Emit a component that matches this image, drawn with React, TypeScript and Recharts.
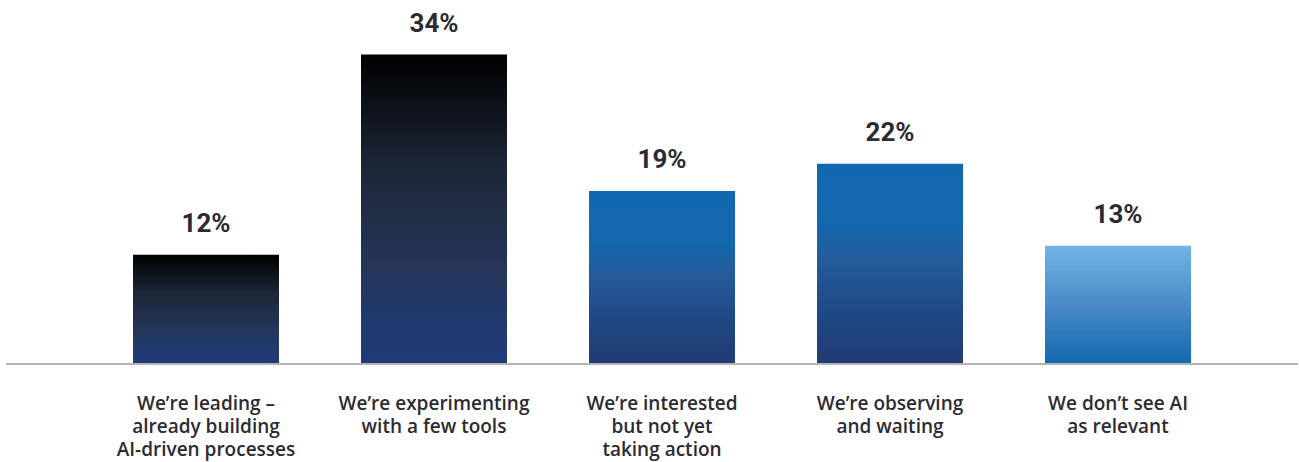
import React from 'react';
import { BarChart, Bar, XAxis, YAxis, Cell, LabelList } from 'recharts';

const categories: string[][] = [
  ['We\u2019re leading \u2013', 'already building', 'AI-driven processes'],
  ['We\u2019re experimenting', 'with a few tools'],
  ['We\u2019re interested', 'but not yet', 'taking action'],
  ['We\u2019re observing', 'and waiting'],
  ['We don\u2019t see AI', 'as relevant'],
];
const values: number[] = [12, 34, 19, 22, 13];
const valueLabels: string[] = ['12%', '34%', '19%', '22%', '13%'];

const gradientFor = ['gDark', 'gDark', 'gBlue', 'gBlue', 'gLight'];

const data = categories.map((c, i) => ({ key: String(i), lines: c, value: values[i], label: valueLabels[i] }));

const TEXT = '#2b2b33';

const Tick = (props: any) => {
  const { x, payload } = props;
  const lines = categories[payload.index] || [];
  return (
    <g>
      {lines.map((l, j) => (
        <text
          key={j}
          x={x}
          y={410 + j * 23}
          textAnchor="middle"
          fontFamily="'Open Sans', sans-serif"
          fontWeight={600}
          fontSize={19}
          fill={TEXT}
        >
          {l}
        </text>
      ))}
    </g>
  );
};

const ValueLabel = (props: any) => {
  const { x, y, width, index } = props;
  return (
    <text
      x={x + width / 2}
      y={y - 23}
      textAnchor="middle"
      fontFamily="Roboto, sans-serif"
      fontWeight={700}
      fontSize={26}
      fill={TEXT}
    >
      {valueLabels[index]}
    </text>
  );
};

export default function App() {
  return (
    <div style={{ position: 'absolute', left: 0, top: 0, width: 1299, height: 462, background: '#fff' }}>
      <BarChart width={1299} height={462} data={data} margin={{ top: 0, right: 1, bottom: 0, left: 6 }} barCategoryGap={82}>
        <defs>
          <linearGradient id="gDark" x1="0" y1="0" x2="0" y2="1">
            <stop offset="0" stopColor="#000000" />
            <stop offset="0.35" stopColor="#1c2636" />
            <stop offset="0.7" stopColor="#26365a" />
            <stop offset="0.85" stopColor="#1f3a6e" />
            <stop offset="1" stopColor="#223a78" />
          </linearGradient>
          <linearGradient id="gBlue" x1="0" y1="0" x2="0" y2="1">
            <stop offset="0" stopColor="#1268b0" />
            <stop offset="0.3" stopColor="#1368ae" />
            <stop offset="0.47" stopColor="#245c9c" />
            <stop offset="0.75" stopColor="#1f4984" />
            <stop offset="1" stopColor="#223a72" />
          </linearGradient>
          <linearGradient id="gLight" x1="0" y1="0" x2="0" y2="1">
            <stop offset="0" stopColor="#72b4e3" />
            <stop offset="0.5" stopColor="#4a8bc8" />
            <stop offset="1" stopColor="#1368af" />
          </linearGradient>
        </defs>
        <XAxis
          dataKey="key"
          interval={0}
          height={98}
          tickLine={false}
          axisLine={{ stroke: '#b4b4b4', strokeWidth: 2 }}
          padding={{ left: 86, right: 66 }}
          tick={<Tick />}
        />
        <YAxis hide domain={[0, 40]} />
        <Bar dataKey="value" barSize={146} isAnimationActive={false}>
          {data.map((d, i) => (
            <Cell key={d.key} fill={`url(#${gradientFor[i]})`} />
          ))}
          <LabelList dataKey="value" content={<ValueLabel />} />
        </Bar>
      </BarChart>
    </div>
  );
}
